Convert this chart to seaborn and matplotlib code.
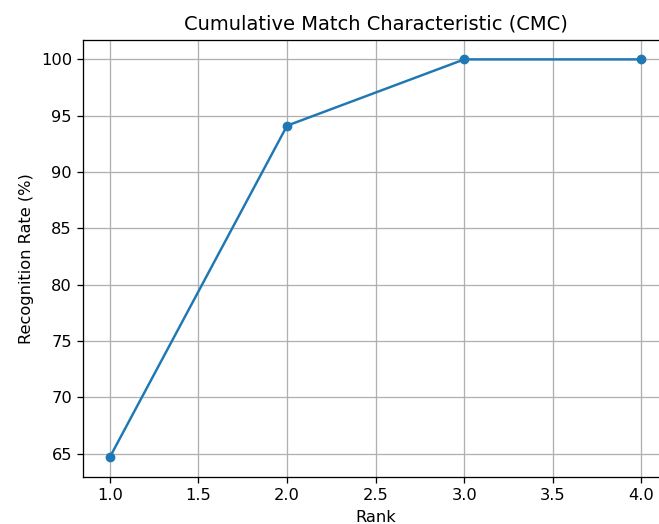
import matplotlib
matplotlib.use("Agg")
import matplotlib.pyplot as plt
import seaborn as sns
import pandas as pd

# CMC curve values
ranks = [1, 2, 3, 4]
recognition_rate = [64.71, 94.12, 100.0, 100.0]

dados = pd.DataFrame({"Rank": ranks, "Rate": recognition_rate})

# original was rendered smaller and scaled up, so use a higher dpi
dpi = 117
fig = plt.figure(figsize=(659 / dpi, 524 / dpi), dpi=dpi)
fig.subplots_adjust(left=0.1264, right=1.0137, top=0.9246, bottom=0.0897)
ax = fig.add_subplot(111)
sns.lineplot(data=dados, x="Rank", y="Rate", marker="o",
             markeredgewidth=0, color="#1f77b4", ax=ax)
ax.set_title("Cumulative Match Characteristic (CMC)")
ax.set_xlabel("Rank")
ax.set_ylabel("Recognition Rate (%)")
ax.grid(True)
fig.savefig("out.png", dpi=dpi)
